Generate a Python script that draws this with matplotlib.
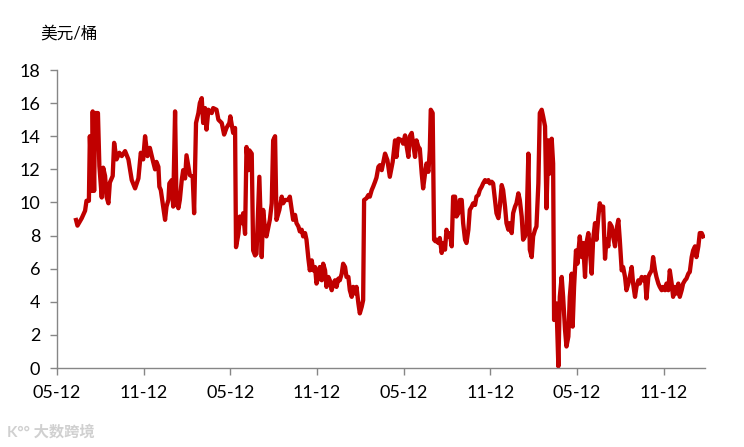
import matplotlib
matplotlib.use("Agg")
import matplotlib.pyplot as plt

plt.rcParams['font.family'] = ['Lato', 'Noto Sans CJK SC', 'DejaVu Sans']

# days since the first "05-12" tick, and price spread (USD/bbl)
days = [40, 43, 52, 59, 62, 67, 69, 73, 75, 78, 80, 86, 89, 94, 97, 101, 104, 108, 111, 117,
        120, 125, 131, 136, 143, 150, 157, 164, 171, 176, 181, 185, 190, 195, 202, 206, 209, 213, 215, 218,
        222, 227, 230, 234, 236, 241, 244, 248, 251, 255, 258, 262, 265, 269, 272, 276, 279, 285, 288, 292,
        297, 300, 304, 307, 311, 314, 318, 325, 328, 335, 339, 346, 351, 356, 362, 364, 370, 374, 376, 381,
        384, 388, 391, 395, 398, 402, 404, 409, 412, 416, 419, 425, 430, 433, 437, 440, 447, 451, 454, 458,
        461, 467, 472, 475, 479, 486, 489, 493, 496, 500, 503, 507, 510, 514, 517, 521, 524, 528, 531, 535,
        538, 542, 545, 549, 552, 556, 559, 563, 566, 570, 573, 577, 580, 584, 587, 591, 594, 598, 601, 605,
        608, 612, 615, 619, 622, 626, 629, 633, 636, 640, 643, 645, 650, 654, 657, 661, 664, 668, 671, 675,
        678, 682, 689, 694, 699, 705, 710, 713, 717, 724, 727, 731, 734, 738, 741, 745, 748, 752, 755, 759,
        762, 766, 769, 773, 776, 780, 783, 785, 789, 792, 795, 797, 801, 804, 808, 811, 815, 818, 822, 825,
        829, 832, 836, 839, 843, 846, 850, 853, 857, 860, 864, 867, 871, 874, 878, 881, 885, 888, 892, 895,
        899, 902, 906, 909, 913, 916, 920, 923, 927, 930, 934, 937, 941, 944, 948, 951, 955, 958, 962, 965,
        969, 972, 976, 979, 983, 986, 990, 993, 997, 1000, 1004, 1007, 1011, 1014, 1018, 1021, 1025, 1028, 1032, 1035,
        1039, 1042, 1044, 1049, 1053, 1056, 1060, 1063, 1067, 1070, 1074, 1077, 1081, 1083, 1086, 1090, 1093, 1098, 1102, 1105,
        1109, 1112, 1116, 1119, 1123, 1126, 1130, 1133, 1137, 1140, 1144, 1147, 1151, 1154, 1158, 1161, 1165, 1168, 1172, 1175,
        1179, 1182, 1186, 1189, 1193, 1196, 1200, 1203, 1207, 1210, 1214, 1217, 1221, 1224, 1228, 1231, 1235, 1238, 1242, 1245,
        1249, 1252, 1256, 1259, 1263, 1266, 1270, 1273, 1277, 1280, 1284, 1287, 1291, 1294, 1298, 1301, 1305, 1308, 1312, 1315,
        1319, 1322, 1326, 1329, 1333, 1336, 1340, 1343, 1347, 1350, 1354, 1357]
spread = [8.94, 8.6, 9.05, 9.5, 10.1, 10.1, 14.0, 10.7, 15.5, 10.7, 15.4, 15.4, 12.2, 10.3, 12.1, 11.6, 10.35, 9.95, 11.2, 11.6,
          13.6, 12.6, 13.0, 12.8, 13.1, 12.6, 11.35, 10.85, 11.45, 13.0, 12.6, 14.0, 12.8, 13.3, 12.45, 12.0, 12.45, 12.15, 10.95, 10.75,
          9.95, 8.95, 9.75, 10.15, 11.15, 11.35, 9.75, 15.5, 9.95, 9.65, 10.15, 11.35, 11.95, 11.45, 12.85, 12.15, 11.65, 11.55, 9.35, 14.8,
          15.4, 16.0, 16.3, 14.8, 15.7, 14.4, 15.6, 15.4, 15.7, 15.6, 15.0, 14.8, 14.1, 14.5, 14.8, 15.2, 14.2, 14.5, 7.3, 8.1,
          9.15, 8.75, 9.35, 8.1, 13.35, 11.95, 13.15, 12.95, 7.1, 6.8, 6.9, 11.55, 6.7, 9.55, 8.35, 7.95, 8.95, 9.95, 13.75, 14.0,
          8.95, 9.55, 10.35, 9.95, 10.15, 10.15, 10.35, 9.55, 8.95, 9.25, 8.75, 8.55, 8.25, 8.35, 7.95, 8.15, 7.75, 6.6, 5.9, 6.5,
          5.9, 6.1, 5.1, 5.5, 6.1, 5.3, 6.3, 5.9, 4.9, 5.5, 5.3, 4.7, 5.1, 5.3, 4.9, 5.4, 5.3, 5.7, 6.3, 6.1,
          5.5, 5.5, 4.7, 4.3, 4.9, 4.5, 4.9, 3.9, 3.3, 3.7, 4.1, 10.15, 10.25, 10.45, 10.35, 10.75, 10.95, 11.25, 11.5, 12.15,
          12.25, 11.95, 12.95, 12.55, 11.55, 12.45, 13.75, 12.75, 13.85, 13.75, 13.55, 14.05, 13.45, 12.75, 14.0, 14.2, 13.55, 12.75, 13.75, 13.35,
          13.25, 11.75, 10.85, 11.75, 12.35, 11.85, 13.15, 15.6, 15.4, 7.75, 7.65, 7.75, 7.55, 7.85, 6.95, 7.55, 7.15, 8.35, 7.95, 8.15,
          7.35, 10.35, 10.35, 9.15, 9.35, 10.15, 10.15, 8.75, 7.75, 7.55, 8.35, 9.55, 9.75, 9.95, 9.85, 10.35, 10.45, 10.75, 10.95, 11.15,
          11.35, 11.25, 11.35, 11.15, 11.25, 11.15, 10.15, 9.35, 9.05, 9.75, 11.05, 10.75, 9.75, 8.75, 8.35, 8.75, 8.15, 9.35, 9.75, 9.95,
          10.55, 10.15, 9.15, 7.75, 7.95, 8.35, 12.95, 7.15, 6.7, 7.95, 8.35, 8.55, 11.15, 15.4, 15.6, 15.2, 14.6, 9.65, 13.75, 11.75,
          13.85, 12.35, 2.9, 3.9, 0.1, 4.3, 5.5, 4.3, 2.3, 1.3, 1.9, 4.3, 5.7, 2.5, 4.9, 7.1, 6.3, 7.95, 6.7, 7.55,
          5.5, 7.55, 8.15, 7.15, 5.7, 7.75, 8.75, 7.75, 9.15, 9.95, 9.55, 9.75, 6.6, 7.75, 7.35, 8.75, 8.55, 7.95, 7.35, 8.35,
          8.95, 7.75, 5.9, 6.1, 5.5, 4.7, 5.1, 5.5, 6.1, 5.1, 4.3, 4.9, 5.3, 5.1, 5.5, 5.3, 5.5, 4.2, 5.5, 5.7,
          5.9, 6.7, 5.9, 5.5, 5.1, 4.9, 4.7, 4.9, 4.7, 5.1, 4.7, 5.9, 5.1, 4.3, 4.9, 4.5, 5.1, 4.3, 4.7, 5.1,
          5.3, 5.4, 5.7, 5.8, 6.7, 7.1, 7.35, 6.7, 7.35, 8.15, 8.15, 7.95]

tick_days = [0, 182, 364, 546, 728, 910, 1092, 1274]
tick_labels = ["05-12", "11-12", "05-12", "11-12", "05-12", "11-12", "05-12", "11-12"]
y_ticks = list(range(0, 19, 2))

fig = plt.figure(figsize=(7.44, 4.47), dpi=100)
ax = fig.add_axes([0.0766, 0.1767, 0.871, 0.6667])

ax.plot(days, spread, color='#C00000', linewidth=3.1, solid_joinstyle='round')

ax.set_xlim(0, 1361)
ax.set_ylim(0, 18)
ax.set_xticks(tick_days)
ax.set_xticklabels(tick_labels)
ax.set_yticks(y_ticks)

for s in ['top', 'right']:
    ax.spines[s].set_visible(False)
for s in ['left', 'bottom']:
    ax.spines[s].set_color('#868686')
    ax.spines[s].set_linewidth(1.0)
ax.tick_params(axis='both', direction='out', length=5, width=1.0, color='#868686',
               labelsize=13, labelcolor='#000000', pad=7)

fig.text(0.054, 0.925, "美元/桶", fontsize=12, ha='left', va='center')
fig.text(0.01, 0.033, "K°° 大数跨境", fontsize=11, color='#d0d0d0', ha='left', va='center',
         fontweight='bold')

fig.savefig("out.png", dpi=100)
